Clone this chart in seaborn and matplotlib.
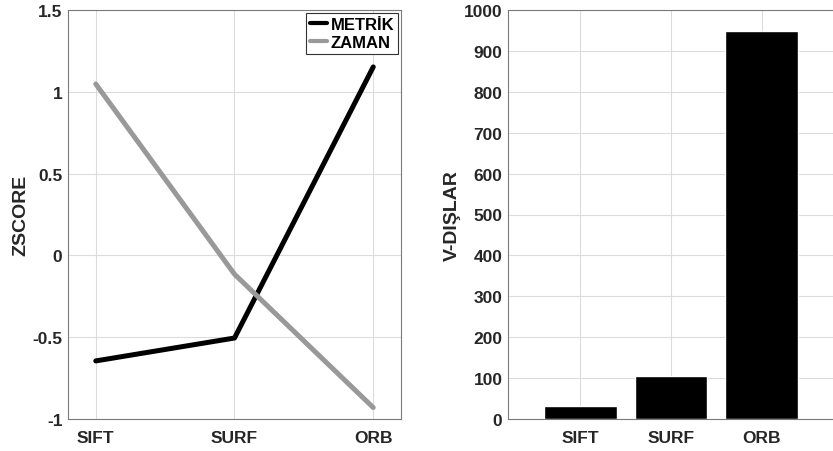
import numpy as np
import pandas as pd
import matplotlib
matplotlib.use("Agg")
import matplotlib.pyplot as plt
import seaborn as sns

# Data
methods = ["SIFT", "SURF", "ORB"]
metrik = [-0.645, -0.505, 1.152]
zaman = [1.048, -0.115, -0.93]
vdislar = [31, 105, 949]

zscore_ticks = [-1, -0.5, 0, 0.5, 1, 1.5]
zscore_labels = ["-1", "-0.5", "0", "0.5", "1", "1.5"]
count_ticks = list(range(0, 1001, 100))

sns.set_style("white")
plt.rcParams["font.family"] = ["Liberation Sans", "DejaVu Sans"]
plt.rcParams["font.weight"] = "bold"

W, H = 833, 452
fig = plt.figure(figsize=(W / 100, H / 100), dpi=100)

text_col = "#262626"
spine_col = "#7a7a7a"
grid_col = "#dcdcdc"
fs = 12.5


def style_axes(ax, xpad=8, ypad=4):
    for s in ax.spines.values():
        s.set_color(spine_col)
        s.set_linewidth(0.8)
        s.set_visible(True)
    ax.tick_params(direction="in", length=4, width=0.8, color=spine_col,
                   labelsize=fs, labelcolor=text_col)
    ax.tick_params(axis="x", pad=xpad)
    ax.tick_params(axis="y", pad=ypad)
    for lab in ax.get_xticklabels() + ax.get_yticklabels():
        lab.set_fontweight("bold")
    ax.grid(True, color=grid_col, linewidth=0.8)
    ax.set_axisbelow(True)


# Left panel: z-scores
ax1 = fig.add_axes([68 / W, (H - 420) / H, (401 - 68) / W, 409 / H])
df = pd.DataFrame({
    "method": methods * 2,
    "value": metrik + zaman,
    "series": ["METRİK"] * 3 + ["ZAMAN"] * 3,
})
sns.lineplot(data=df, x="method", y="value", hue="series",
             palette={"METRİK": "black", "ZAMAN": "#999999"},
             linewidth=3.6, sort=False, ax=ax1)
ax1.set_xlim(-0.2, 2.2)
ax1.set_ylim(-1, 1.5)
ax1.set_yticks(zscore_ticks)
ax1.set_yticklabels(zscore_labels)
ax1.set_xticks(range(len(methods)))
ax1.set_xticklabels(methods)
ax1.set_xlabel("")
ax1.set_ylabel("ZSCORE", fontsize=14, fontweight="bold", color=text_col, labelpad=2)
style_axes(ax1)
leg = ax1.legend(loc="upper right", fontsize=12, handlelength=1.0,
                 handletextpad=0.25, borderpad=0.25, labelspacing=0.2,
                 fancybox=False, framealpha=1, borderaxespad=0.15)
leg.get_frame().set_edgecolor("#333333")
leg.get_frame().set_linewidth(0.8)
for t in leg.get_texts():
    t.set_fontweight("bold")
    t.set_color("black")
for ln in leg.get_lines():
    ln.set_linewidth(3.0)

# Right panel: counts
ax2 = fig.add_axes([508 / W, (H - 420) / H, 326 / W, 409 / H])
sns.barplot(x=methods, y=vdislar, color="black", width=0.8,
            saturation=1, ax=ax2)
ax2.set_xlim(-0.8, 2.8)
ax2.set_ylim(0, 1000)
ax2.set_yticks(count_ticks)
ax2.set_ylabel("V-DIŞLAR", fontsize=14, fontweight="bold", color=text_col, labelpad=2)
style_axes(ax2)
ax2.spines["right"].set_visible(False)

fig.savefig("out.png", dpi=100)
